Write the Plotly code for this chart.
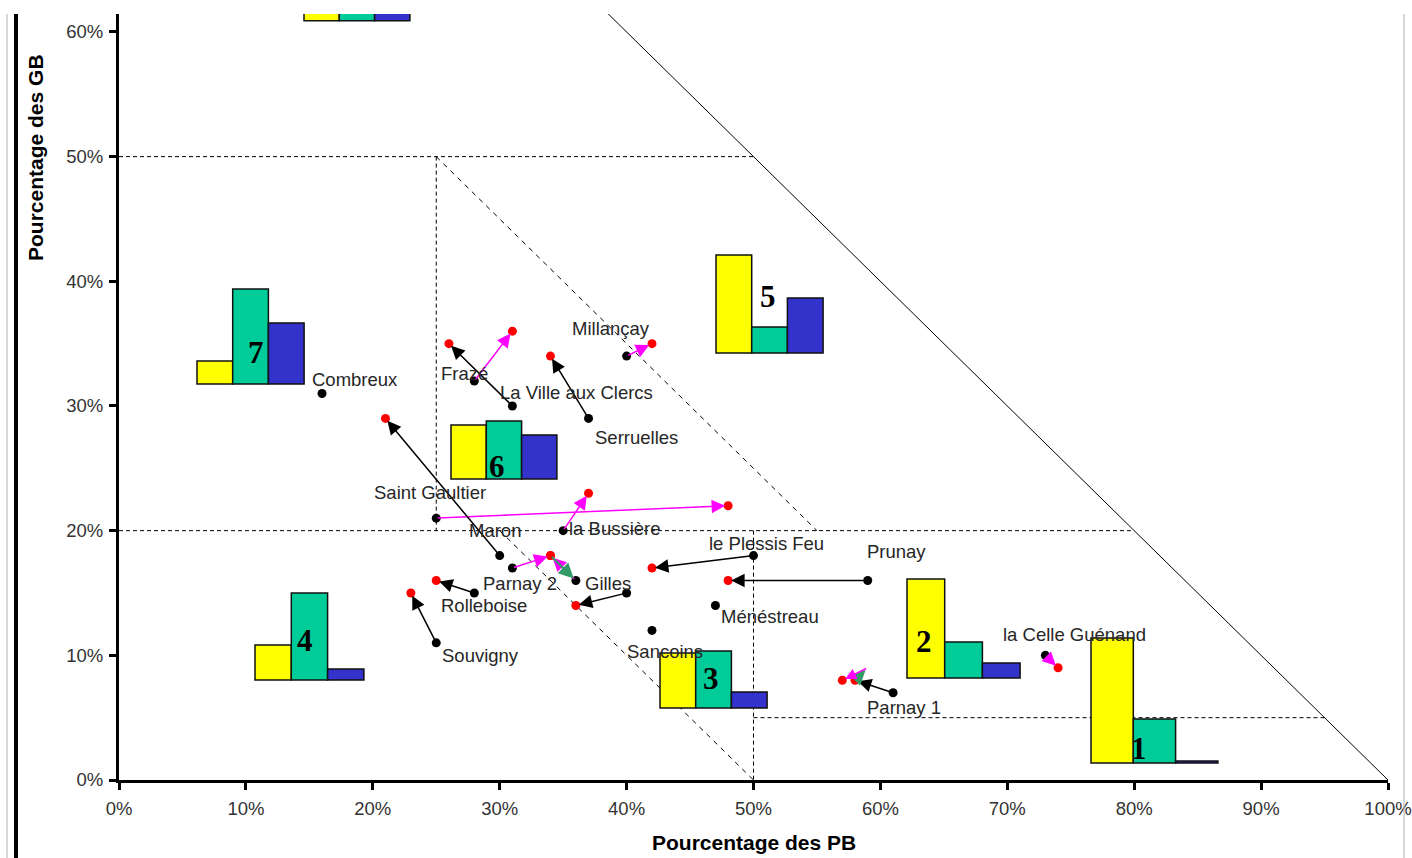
import plotly.graph_objects as go

# ---------------- data ----------------
communes = ["Combreux", "Frazé", "La Ville aux Clercs", "Millançay", "Serruelles",
            "Saint Gaultier", "Maron", "la Bussière", "le Plessis Feu", "Prunay",
            "Parnay 2", "Gilles", "", "Rolleboise", "Ménéstreau", "Souvigny",
            "Sancoins", "la Celle Guénand", "Parnay 1"]
pb_start = [16, 28, 31, 40, 37, 25, 30, 35, 50, 59, 31, 36, 40, 28, 47, 25, 42, 73, 61]
gb_start = [31, 32, 30, 34, 29, 21, 18, 20, 18, 16, 17, 16, 15, 15, 14, 11, 12, 10, 7]
pb_end = [None, 31, 26, 42, 34, 48, 21, 37, 42, 48, 34, 34, 36, 25, None, 23, None, 74, 58]
gb_end = [None, 36, 35, 35, 34, 22, 29, 23, 17, 16, 18, 18, 14, 16, None, 15, None, 9, 8]
move_group = ["", "A", "B", "A", "B", "A", "B", "A", "B", "B", "A", "A", "B", "B", "", "B", "", "A", "B"]

# second-step moves
step2_pb_from = [34, 58, 59]
step2_gb_from = [18, 8, 9]
step2_pb_to = [36, 59, 57]
step2_gb_to = [16, 9, 8]
step2_group = ["C", "C", "A"]

# typology histograms (yellow = PB, green = MB, blue = GB)
cluster_ids = ["1", "2", "3", "4", "5", "6", "7", "8"]
pb_share = [62.5, 49.5, 27.5, 17.5, 49, 27, 11.5, 30]
mb_share = [22, 18, 28.5, 43.5, 13, 29, 47.5, 30]
gb_share = [1, 7.5, 8, 5.5, 27.5, 22, 30.5, 30]

x_ticks = list(range(0, 101, 10))
y_ticks = list(range(0, 61, 10))

# ---------------- layout / style ----------------
W, H = 1412, 858
ML, MR, MT, MB = 119, 24, 14, 78
PW, PH = W - ML - MR, H - MT - MB
Y_TOP = 61.44
FONT = "Liberation Sans, Arial, sans-serif"
SERIF = "Liberation Serif, Times New Roman, serif"
arrow_colours = {"A": "#FF00FF", "B": "#000000", "C": "#339966"}
bar_colours = ["#FFFF00", "#00CC99", "#3333CC"]

# label anchors (left edge, middle) in data units
label_pos = {
    "Combreux": (15.05, 32.1), "Frazé": (25.2, 32.6), "La Ville aux Clercs": (29.9, 31.1),
    "Millançay": (35.5, 36.2), "Serruelles": (37.35, 27.5), "Saint Gaultier": (19.9, 23.1),
    "Maron": (27.4, 20.0), "la Bussière": (35.3, 20.2), "le Plessis Feu": (46.3, 19.0),
    "Prunay": (58.8, 18.3), "Parnay 2": (28.5, 15.8), "Gilles": (36.6, 15.8),
    "Rolleboise": (25.2, 14.0), "Ménéstreau": (47.3, 13.15), "Souvigny": (25.3, 10.0),
    "Sancoins": (39.9, 10.3), "la Celle Guénand": (69.5, 11.7), "Parnay 1": (58.8, 5.85),
}

# inset placement in pixels: (left, base, bar width)
inset_px = [(1091, 763, 42.3), (907, 678, 37.7), (660, 708, 35.7), (255, 680, 36.3),
            (716, 353, 35.7), (451, 479, 35.3), (197, 384, 35.7), (304, 20.7, 35.3)]
# number label position inside each inset (bar index, value units)
inset_label = [(0.63, 7.5), (-0.05, 18.5), (0.93, 15), (0.88, 20), (0.96, 28.5),
               (0.8, 6.5), (1.15, 16), None]
PX_PER_UNIT = 2.0


def px_to_paper_x(px):
    return (px - ML) / PW


def px_to_paper_y(py):
    return (H - MB - py) / PH


fig = go.Figure()

# zone lines
dashed = [((0, 50), (50, 50)), ((25, 50), (25, 20)), ((0, 20), (80, 20)),
          ((50, 20), (50, 0)), ((50, 5), (95, 5))]
diag = [((25, 50), (55, 20)), ((30, 20), (50, 0))]
for (a, b) in dashed:
    fig.add_shape(type="line", x0=a[0], y0=a[1], x1=b[0], y1=b[1], xref="x", yref="y",
                  line=dict(color="black", width=1, dash="4px,3px"), layer="below")
for (a, b) in diag:
    fig.add_shape(type="line", x0=a[0], y0=a[1], x1=b[0], y1=b[1], xref="x", yref="y",
                  line=dict(color="black", width=1, dash="5px,5px"), layer="below")
fig.add_shape(type="line", x0=35, y0=65, x1=100, y1=0, xref="x", yref="y",
              line=dict(color="black", width=1), layer="below")

# points
fig.add_trace(go.Scatter(x=pb_start, y=gb_start, mode="markers",
                         marker=dict(color="black", size=9), hoverinfo="skip",
                         showlegend=False))
red_x = [v for v in pb_end if v is not None] + [step2_pb_to[i] for i, g in enumerate(step2_group) if g == "A"]
red_y = [v for v in gb_end if v is not None] + [step2_gb_to[i] for i, g in enumerate(step2_group) if g == "A"]
fig.add_trace(go.Scatter(x=red_x, y=red_y, mode="markers",
                         marker=dict(color="#FF0000", size=9), hoverinfo="skip",
                         showlegend=False))

annotations = []
for i, name in enumerate(communes):
    if pb_end[i] is not None:
        annotations.append(dict(x=pb_end[i], y=gb_end[i], ax=pb_start[i], ay=gb_start[i],
                                xref="x", yref="y", axref="x", ayref="y", text="",
                                showarrow=True, arrowhead=2, arrowsize=1.8, arrowwidth=1.5,
                                arrowcolor=arrow_colours[move_group[i]], standoff=3))
for i in range(len(step2_group)):
    annotations.append(dict(x=step2_pb_to[i], y=step2_gb_to[i], ax=step2_pb_from[i],
                            ay=step2_gb_from[i], xref="x", yref="y", axref="x", ayref="y",
                            text="", showarrow=True, arrowhead=2, arrowsize=1.5,
                            arrowwidth=2 if step2_group[i] == "C" else 1.5,
                            arrowcolor=arrow_colours[step2_group[i]], standoff=3))
for name in communes:
    if name in label_pos:
        lx, ly = label_pos[name]
        annotations.append(dict(x=lx, y=ly, xref="x", yref="y", text=name, showarrow=False,
                                xanchor="left", yanchor="middle",
                                font=dict(family=FONT, size=18.5, color="#262626")))

# inset histograms
PAD = 3
layout_axes = {}
for k, cid in enumerate(cluster_ids):
    n = k + 2
    L, B, w = inset_px[k]
    vals = [pb_share[k], mb_share[k], gb_share[k]]
    top_units = max(vals) + 6
    top_px = B - top_units * PX_PER_UNIT
    if top_px < MT:
        top_px = MT
        top_units = (B - MT) / PX_PER_UNIT
    xdom = [px_to_paper_x(L - PAD), px_to_paper_x(L + 3 * w + PAD)]
    ydom = [px_to_paper_y(B + PAD), min(1.0, px_to_paper_y(top_px))]
    layout_axes[f"xaxis{n}"] = dict(domain=xdom, range=[-0.5 - PAD / w, 2.5 + PAD / w],
                                    visible=False, anchor=f"y{n}", fixedrange=True,
                                    automargin=False)
    layout_axes[f"yaxis{n}"] = dict(domain=ydom, range=[-PAD / PX_PER_UNIT, top_units],
                                    visible=False, anchor=f"x{n}", fixedrange=True,
                                    automargin=False)
    fig.add_trace(go.Bar(x=[0, 1, 2], y=vals, width=[1, 1, 1], xaxis=f"x{n}", yaxis=f"y{n}",
                         marker=dict(color=bar_colours, line=dict(color="#111111", width=1.5)),
                         hoverinfo="skip", showlegend=False))
    if inset_label[k] is not None:
        annotations.append(dict(x=inset_label[k][0], y=inset_label[k][1], xref=f"x{n}",
                                yref=f"y{n}", text=f"<b>{cid}</b>", showarrow=False,
                                xanchor="center", yanchor="middle",
                                font=dict(family=SERIF, size=31, color="black")))

# axis titles
annotations.append(dict(x=0.5, y=px_to_paper_y(843), xref="paper", yref="paper",
                        text="<b>Pourcentage des PB</b>", showarrow=False,
                        xanchor="center", yanchor="middle",
                        font=dict(family=FONT, size=21, color="black")))
annotations.append(dict(x=px_to_paper_x(35), y=px_to_paper_y(158), xref="paper", yref="paper",
                        text="<b>Pourcentage des GB</b>", showarrow=False, textangle=-90,
                        xanchor="center", yanchor="middle",
                        font=dict(family=FONT, size=21, color="black")))

# frame lines
shapes_frame = [
    dict(type="line", xref="paper", yref="paper", x0=px_to_paper_x(16), x1=px_to_paper_x(16),
         y0=1.0, y1=px_to_paper_y(858), line=dict(color="black", width=4)),
    dict(type="line", xref="paper", yref="paper", x0=px_to_paper_x(7), x1=px_to_paper_x(7),
         y0=1.0, y1=px_to_paper_y(858), line=dict(color="#b0b0b0", width=1)),
    dict(type="line", xref="paper", yref="paper", x0=px_to_paper_x(1404), x1=px_to_paper_x(1404),
         y0=1.0, y1=px_to_paper_y(858), line=dict(color="#b0b0b0", width=1)),
]
for s in shapes_frame:
    fig.add_shape(**s)

axis_common = dict(showline=True, linewidth=3, linecolor="black", ticks="outside",
                   ticklen=7, tickwidth=3, tickcolor="black", showgrid=False, zeroline=False,
                   tickfont=dict(family=FONT, size=18.5, color="#333333"), fixedrange=True,
                   automargin=False)

fig.update_layout(
    width=W, height=H, autosize=False,
    margin=dict(l=ML, r=MR, t=MT, b=MB, pad=0, autoexpand=False),
    paper_bgcolor="white", plot_bgcolor="rgba(0,0,0,0)",
    xaxis=dict(range=[0, 100], tickvals=x_ticks, ticktext=[f"{v}%" for v in x_ticks],
               domain=[0, 1], anchor="y", ticklabelstandoff=3, **axis_common),
    yaxis=dict(range=[0, Y_TOP], tickvals=y_ticks, ticktext=[f"{v}%" for v in y_ticks],
               domain=[0, 1], anchor="x", ticklabelstandoff=2, **axis_common),
    annotations=annotations,
    showlegend=False,
    **layout_axes,
)

fig.write_html("out.html")
